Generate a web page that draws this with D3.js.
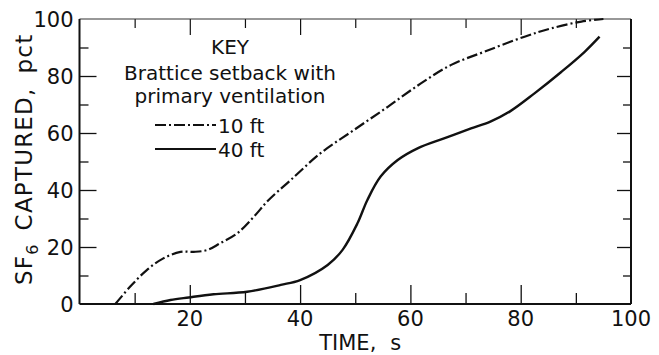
<!DOCTYPE html>
<html>
<head>
<meta charset="utf-8">
<script src="https://cdn.jsdelivr.net/npm/d3@7"></script>
<style>
  html, body { margin: 0; padding: 0; background: #fff; }
  svg { display: block; }
  text { font-family: "DejaVu Sans", sans-serif; fill: #111; }
</style>
</head>
<body>
<svg id="chart" width="659" height="355"></svg>
<script>
// SF6 captured vs. time, brattice setback with primary ventilation
const time10 = [6.5, 9.2, 12.2, 15.2, 18.3, 20.7, 23.1, 25.5, 28.6, 31.6, 34.3, 38.3, 43.7, 49.8, 55.9, 61.9, 67.4, 73.4, 80.7, 85.5, 91, 95];
const pct10  = [0, 6.1, 11.9, 16, 18.3, 18.3, 18.9, 21.3, 24.8, 30.6, 36.5, 43.5, 52.9, 61.1, 69.2, 77.4, 83.9, 88.5, 93.8, 96.7, 99.1, 100];

const time40 = [13.4, 16.5, 19.8, 24.3, 30.4, 36.5, 40, 45, 47.7, 50.4, 52.2, 54.6, 57.7, 61.3, 66.1, 71, 74.5, 78, 82.5, 87.4, 91.6, 94.3];
const pct40  = [0, 1.4, 2.3, 3.4, 4.3, 6.7, 8.4, 13.7, 19, 28.3, 36.5, 44.7, 50.5, 54.6, 58.1, 61.6, 64, 67.5, 73.9, 81.5, 88.5, 93.8];

const xMajor = [20, 40, 60, 80, 100];
const xMinor = [10, 30, 50, 70, 90];
const yMajor = [0, 20, 40, 60, 80, 100];
const yMinor = [10, 30, 50, 70, 90];

const keyTitle = "KEY";
const keyLines = ["Brattice setback with", "primary ventilation"];
const seriesNames = ["10 ft", "40 ft"];

const svg = d3.select("#chart");
const plotL = 79.5, plotR = 631, plotT = 19, plotB = 304;

const x = d3.scaleLinear().domain([0, 100]).range([plotL, plotR]);
const y = d3.scaleLinear().domain([0, 100]).range([plotB, plotT]);

const ink = "#111";

// ---- axes (ticks point into the plot) ----
function tickAxis(axisFn, scale, vals, size, transform, sw) {
  const g = svg.append("g").attr("transform", transform)
    .call(axisFn(scale).tickValues(vals).tickSizeInner(-size).tickSizeOuter(0).tickFormat(""));
  g.select(".domain").remove();
  g.selectAll(".tick line").attr("stroke", ink).attr("stroke-width", sw);
  return g;
}
// bottom
tickAxis(d3.axisBottom, x, xMajor.filter(d => d < 100), 19, `translate(0,${plotB})`, 1.3);
tickAxis(d3.axisBottom, x, xMinor, 11, `translate(0,${plotB})`, 1.3);
// top
tickAxis(d3.axisTop, x, xMajor.filter(d => d < 100), 16, `translate(0,${plotT})`, 1.2);
tickAxis(d3.axisTop, x, xMinor, 9, `translate(0,${plotT})`, 1.2);
// left
tickAxis(d3.axisLeft, y, yMajor.filter(d => d > 0 && d < 100), 17, `translate(${plotL},0)`, 1.3);
tickAxis(d3.axisLeft, y, yMinor, 9, `translate(${plotL},0)`, 1.3);
// right
tickAxis(d3.axisRight, y, yMajor.filter(d => d > 0 && d < 100), 14, `translate(${plotR},0)`, 1.3);
tickAxis(d3.axisRight, y, yMinor, 8, `translate(${plotR},0)`, 1.3);

// frame
svg.append("line").attr("x1", plotL).attr("x2", plotR).attr("y1", plotT).attr("y2", plotT)
  .attr("stroke", "#333").attr("stroke-width", 1.2);
svg.append("line").attr("x1", plotL).attr("x2", plotR).attr("y1", plotB).attr("y2", plotB)
  .attr("stroke", ink).attr("stroke-width", 2);
svg.append("line").attr("x1", plotL).attr("x2", plotL).attr("y1", plotT).attr("y2", plotB)
  .attr("stroke", ink).attr("stroke-width", 2);
svg.append("line").attr("x1", plotR).attr("x2", plotR).attr("y1", plotT).attr("y2", plotB)
  .attr("stroke", ink).attr("stroke-width", 2);

// tick labels
svg.append("g").selectAll("text").data(yMajor).join("text")
  .attr("x", plotL - 6).attr("y", d => y(d)).attr("dy", "0.36em")
  .attr("text-anchor", "end").attr("font-size", 21).text(d => d);

svg.append("g").selectAll("text").data(xMajor).join("text")
  .attr("x", d => x(d)).attr("y", plotB + 22)
  .attr("text-anchor", "middle").attr("font-size", 21).text(d => d);

// axis titles
const xt = svg.append("text").attr("x", x(50) + 5).attr("y", 350)
  .attr("text-anchor", "middle").attr("font-size", 21);
xt.append("tspan").text("TIME,");
xt.append("tspan").attr("dx", 14).text("s");

const yt = svg.append("text")
  .attr("transform", `translate(32,285) rotate(-90)`)
  .attr("font-size", 23).attr("letter-spacing", 1.2);
yt.append("tspan").text("SF");
yt.append("tspan").attr("dy", 6).attr("font-size", 16).text("6");
yt.append("tspan").attr("dy", -6).attr("dx", 13).text("CAPTURED,");
yt.append("tspan").attr("dx", 14).text("pct");

// ---- curves ----
const line = d3.line().x(d => x(d[0])).y(d => y(d[1])).curve(d3.curveCatmullRom.alpha(0.5));
const dashDot = "11,3,2,3";

svg.append("path").datum(d3.zip(time10, pct10)).attr("d", line)
  .attr("fill", "none").attr("stroke", ink).attr("stroke-width", 2.2)
  .attr("stroke-dasharray", dashDot);
svg.append("path").datum(d3.zip(time40, pct40)).attr("d", line)
  .attr("fill", "none").attr("stroke", ink).attr("stroke-width", 2.4);

// ---- key ----
const keyX = 230;
svg.append("text").attr("x", keyX).attr("y", 54).attr("text-anchor", "middle")
  .attr("font-size", 20).text(keyTitle);
svg.append("g").selectAll("text").data(keyLines).join("text")
  .attr("x", keyX).attr("y", (d, i) => 80 + i * 23).attr("text-anchor", "middle")
  .attr("font-size", 20).text(d => d);

const keyRows = [
  { name: seriesNames[0], dash: dashDot, y: 125, sw: 2.2 },
  { name: seriesNames[1], dash: null, y: 149, sw: 2.2 }
];
keyRows.forEach(r => {
  svg.append("line").attr("x1", 155).attr("x2", 216).attr("y1", r.y).attr("y2", r.y)
    .attr("stroke", ink).attr("stroke-width", r.sw)
    .attr("stroke-dasharray", r.dash);
  svg.append("text").attr("x", 218).attr("y", r.y + 8).attr("font-size", 20).text(r.name);
});
</script>
</body>
</html>
